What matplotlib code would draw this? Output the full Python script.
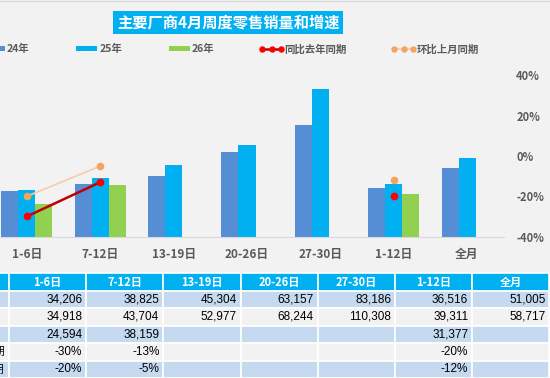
import numpy as np
import matplotlib
matplotlib.use('Agg')
import matplotlib.pyplot as plt
import matplotlib.patches as mpatches
from matplotlib.ticker import FuncFormatter
from matplotlib.legend_handler import HandlerLine2D

plt.rcParams['font.family'] = ['Noto Sans CJK SC', 'DejaVu Sans']

# data
categories = ['1-6日', '7-12日', '13-19日', '20-26日', '27-30日', '1-12日', '全月']
s24 = [34206, 38825, 45304, 63157, 83186, 36516, 51005]
s25 = [34918, 43704, 52977, 68244, 110308, 39311, 58717]
s26 = [24594, 38159, np.nan, np.nan, np.nan, 31377, np.nan]
yoy = [-0.30, -0.13, np.nan, np.nan, np.nan, -0.20, np.nan]
mom = [-0.20, -0.05, np.nan, np.nan, np.nan, -0.12, np.nan]
series_names = ['24年', '25年', '26年', '同比去年同期', '环比上月同期']
title = '主要厂商4月周度零售销量和增速'

c24 = '#558ED5'
c25 = '#00B0F0'
c26 = '#92D050'
bg = '#F2F2F2'
grey = '#595959'

W, H = 550, 378
fig = plt.figure(figsize=(W / 100, H / 100), dpi=100, facecolor=bg)

# chart axes (pixel layout converted to figure fractions)
x0, x1 = -9.7, 503.7
y_base, y_top = 236.5, 75.5
ax = fig.add_axes([x0 / W, (H - y_base) / H, (x1 - x0) / W, (y_base - y_top) / H])
ax.set_facecolor('none')
x = np.arange(len(categories))
bw = 0.232
b1 = ax.bar(x - bw, s24, bw, color=c24, label=series_names[0])
b2 = ax.bar(x, s25, bw, color=c25, label=series_names[1])
b3 = ax.bar(x + bw, s26, bw, color=c26, label=series_names[2])
ax.set_xlim(-0.5, len(categories) - 0.5)
ax.set_ylim(0, 120000)
ax.set_yticks([])
for s in ['top', 'left', 'right']:
    ax.spines[s].set_visible(False)
ax.spines['bottom'].set_color('#D9D9D9')
ax.set_xticks(x)
ax.set_xticklabels(categories, fontsize=8.5, fontweight='bold', color=grey)
ax.tick_params(axis='x', length=0, pad=8)

ax2 = ax.twinx()
l1, = ax2.plot(x, yoy, color='#C00000', lw=1.8, marker='o', ms=4.5,
               mfc='#FF0000', mec='#FF0000', label=series_names[3])
l2, = ax2.plot(x, mom, color='#F8CBAD', lw=1.2, marker='o', ms=4.5,
               mfc='#F4A460', mec='#F4A460', label=series_names[4])
ax2.set_ylim(-0.4, 0.4)
ax2.set_yticks([-0.4, -0.2, 0, 0.2, 0.4])
ax2.yaxis.set_major_formatter(FuncFormatter(lambda v, p: '%d%%' % round(v * 100)))
ax2.tick_params(axis='y', length=0, pad=9, labelsize=8, labelcolor=grey)
for lab in ax2.get_yticklabels():
    lab.set_fontweight('bold')
for s in ['top', 'left', 'right', 'bottom']:
    ax2.spines[s].set_visible(False)

# title
fig.text(228 / W, 1 - 22.5 / H, title, ha='center', va='center', fontsize=11,
         fontweight='bold', color='white',
         bbox=dict(boxstyle='square,pad=0.25', fc=c25, ec='none'))

# legend
leg = fig.legend([b1, b2, b3, l1, l2], series_names, loc='center left',
                 bbox_to_anchor=(-16 / W, 1 - 49 / H), ncol=5, frameon=False,
                 numpoints=3, handlelength=2.0, handleheight=0.45,
                 handletextpad=0.2, columnspacing=4.5, borderpad=0,
                 borderaxespad=0, markerscale=0.8,
                 handler_map={l1: HandlerLine2D(marker_pad=0.1),
                              l2: HandlerLine2D(marker_pad=0.1)},
                 prop={'size': 7.5, 'weight': 'bold'})
for t in leg.get_texts():
    t.set_color(grey)

# top border line
fig.add_artist(plt.Line2D([0, 1], [1 - 1 / H, 1 - 1 / H], color='#D9D9D9', lw=1))

# table
tab = fig.add_axes([0, 0, 1, 1])
tab.set_xlim(0, W)
tab.set_ylim(H, 0)
tab.axis('off')
tab.patch.set_alpha(0)

col_w = 77.2
col_left = 9 - col_w
row_top = 273.3
row_h = 17.45

def fmt_num(v):
    return '' if np.isnan(v) else '{:,.0f}'.format(v)

def fmt_pct(v):
    return '' if np.isnan(v) else '%d%%' % round(v * 100)

rows = [[fmt_num(v) for v in s24],
        [fmt_num(v) for v in s25],
        [fmt_num(v) for v in s26],
        [fmt_pct(v) for v in yoy],
        [fmt_pct(v) for v in mom]]

n_cols = len(categories) + 1
for r in range(len(rows) + 1):
    ytop = row_top + r * row_h
    if r == 0:
        fc = c25
    elif r % 2 == 1:
        fc = '#C5D9F1'
    else:
        fc = bg
    for c in range(n_cols):
        xl = col_left + c * col_w
        tab.add_patch(mpatches.Rectangle((xl, ytop), col_w, row_h, fc=fc,
                                         ec='white', lw=1.2))
        yc = ytop + row_h / 2
        if r == 0:
            if c > 0:
                tab.text(xl + col_w / 2, yc, categories[c - 1], ha='center',
                         va='center', fontsize=8, fontweight='bold', color='white')
        elif c == 0:
            # row labels sit in the first column, mostly outside the picture
            tab.text(xl + 6, yc, series_names[r - 1], ha='left',
                     va='center', fontsize=8, color='black')
        else:
            tab.text(xl + col_w - 4, yc, rows[r - 1][c - 1], ha='right',
                     va='center', fontsize=8.5, color='black',
                     family=['Liberation Sans', 'DejaVu Sans'])

fig.savefig('out.png', dpi=100, facecolor=fig.get_facecolor())
